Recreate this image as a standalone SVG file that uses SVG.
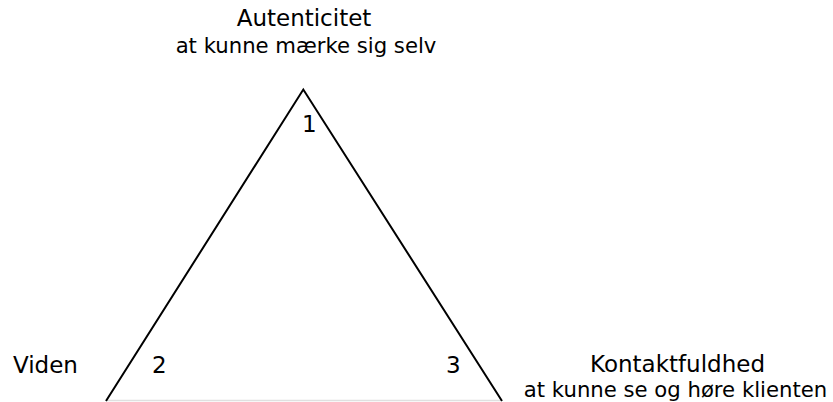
<svg xmlns="http://www.w3.org/2000/svg" width="833" height="402" viewBox="0 0 833 402">
<style>
text{font-family:"DejaVu Sans",Verdana,sans-serif;font-size:23px;fill:#000}
.s{font-size:21.2px}
.m{text-anchor:middle}
</style>
<rect width="833" height="402" fill="#fff"/>
<g id="connectors">
<line x1="106" y1="400.5" x2="501" y2="400.5" stroke="#e0e0e0" stroke-width="1.5"/>
<polyline points="106,401 303.3,89.5 502,401" fill="none" stroke="#000" stroke-width="2"/>
</g>
<g id="n1"><text class="m" x="304" y="26">Autenticitet</text><text class="m s" x="306" y="53">at kunne mærke sig selv</text></g>
<g id="n1num"><text x="302" y="132">1</text></g>
<g id="n2"><text x="13" y="373">Viden</text></g>
<g id="n2num"><text x="152" y="373">2</text></g>
<g id="n3num"><text x="446" y="373">3</text></g>
<g id="n3"><text class="m" x="677.5" y="372">Kontaktfuldhed</text><text class="m s" x="675.5" y="397">at kunne se og høre klienten</text></g>
</svg>
